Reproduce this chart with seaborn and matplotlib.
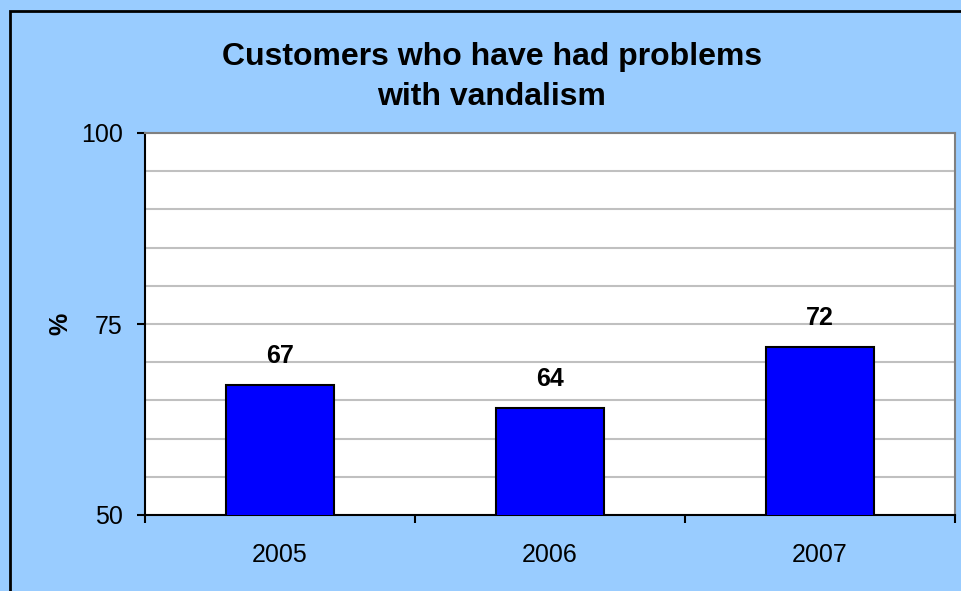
import matplotlib
matplotlib.use("Agg")
import matplotlib.pyplot as plt
import seaborn as sns
import pandas as pd
from matplotlib.patches import Rectangle

years = ["2005", "2006", "2007"]
values = [67, 64, 72]
title_text = "Customers who have had problems\nwith vandalism"
ylabel_text = "%"
yticks_major = [50, 75, 100]
ygrid = [55, 60, 65, 70, 80, 85, 90, 95]

sns.set_theme(style="white")
plt.rcParams['font.family'] = ['Liberation Sans', 'DejaVu Sans']
plt.rcParams['text.color'] = 'black'
plt.rcParams['axes.labelcolor'] = 'black'
plt.rcParams['xtick.color'] = 'black'
plt.rcParams['ytick.color'] = 'black'

W, H = 962, 591
fig = plt.figure(figsize=(W / 100, H / 100), dpi=100, facecolor="#99CCFF")
ax = fig.add_axes([145 / W, 1 - 515 / H, 810 / W, 382 / H])
ax.set_facecolor("white")

df = pd.DataFrame({"year": years, "value": values})
sns.barplot(data=df, x="year", y="value", color="#0000FF", saturation=1,
            width=0.4, edgecolor="black", linewidth=1.5, ax=ax, zorder=3)

ax.set_ylim(50, 100)
ax.set_xlim(-0.5, 2.5)
ax.set_yticks(yticks_major)
ax.set_yticks(ygrid, minor=True)
ax.grid(True, axis="y", which="both", color="#C0C0C0", linewidth=1.5, zorder=0)
ax.set_axisbelow(True)

ax.tick_params(axis="y", which="major", length=6, width=1.5, color="black",
               labelcolor="black", direction="out", pad=10, labelsize=18, left=True)
ax.tick_params(axis="y", which="minor", length=0)
ax.set_xticks([-0.5, 0.5, 1.5, 2.5], minor=True)
ax.tick_params(axis="x", which="major", length=0, pad=20, labelsize=18,
               labelcolor="black")
ax.tick_params(axis="x", which="minor", length=6, width=1.5, color="black",
               direction="out", bottom=True)

ax.set_xlabel("")
ax.set_ylabel(ylabel_text, fontsize=18, fontweight="bold", labelpad=6,
              color="black")

for sp in ["left", "bottom"]:
    ax.spines[sp].set_color("black")
    ax.spines[sp].set_linewidth(1.5)
for sp in ["top", "right"]:
    ax.spines[sp].set_color("#808080")
    ax.spines[sp].set_linewidth(1.5)

for i, v in enumerate(values):
    ax.annotate(f"{v}", xy=(i, v), xytext=(0, 12), textcoords="offset points",
                ha="center", va="bottom", fontsize=18, fontweight="bold",
                color="black")

fig.text(492 / W, 1 - 77 / H, title_text, ha="center", va="center",
         fontsize=23, fontweight="bold", linespacing=1.45, color="black")

fig.add_artist(Rectangle((10 / W, -0.1), 1.2, (1 - 11 / H) + 0.1,
                         transform=fig.transFigure, fill=False,
                         edgecolor="black", linewidth=2))

fig.savefig("out.png", dpi=100, facecolor=fig.get_facecolor())
